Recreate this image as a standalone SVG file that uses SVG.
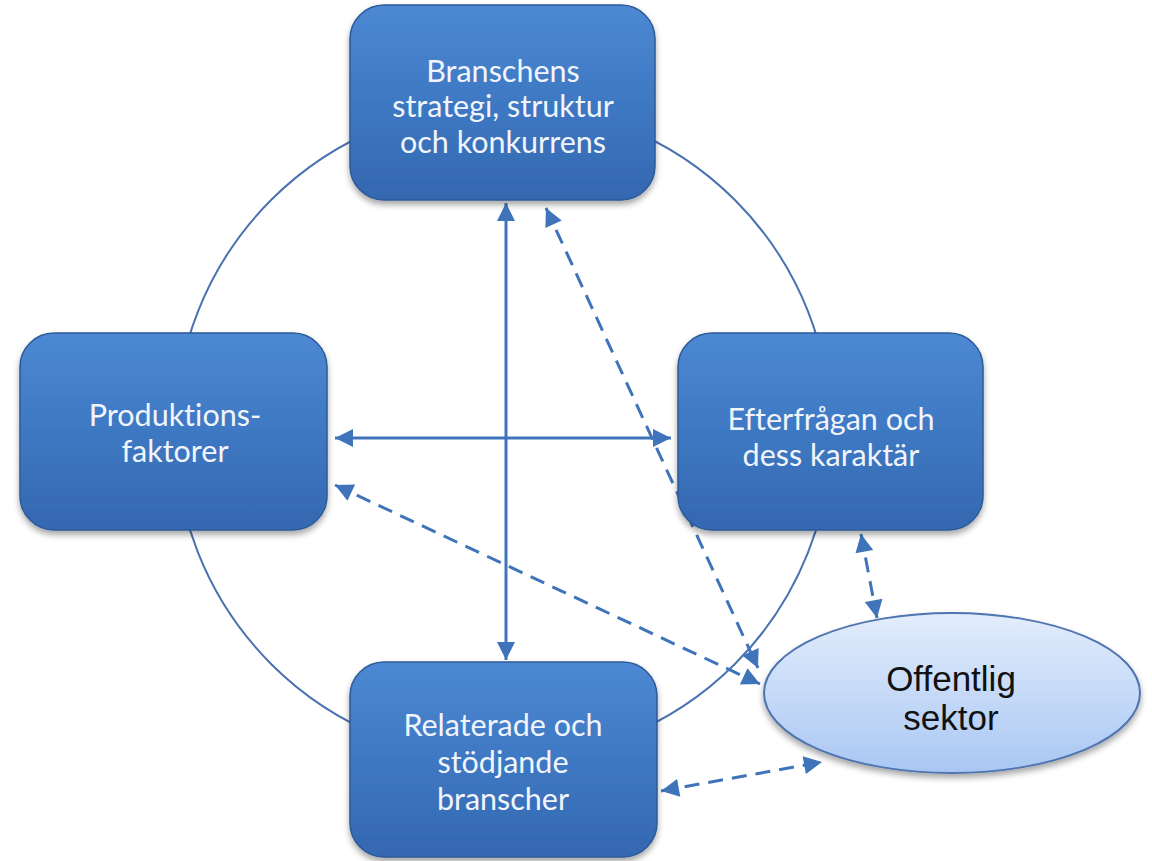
<svg xmlns="http://www.w3.org/2000/svg" width="1152" height="861" viewBox="0 0 1152 861">
  <style>
    .ring { fill: none; stroke: #4a72b0; stroke-width: 2; }
    .box { fill: url(#boxFill); stroke: #2c5a98; stroke-width: 1.5; filter: url(#shadow); }
    .label { font-family: Lato, "Open Sans", sans-serif; font-size: 30.5px; fill: #f1f5fb; text-anchor: middle; font-variant-ligatures: none; }
    .oval { fill: url(#ovalFill); stroke: #4f74b0; stroke-width: 2; filter: url(#shadow); }
    .ovalLabel { font-family: "Liberation Sans", Arial, sans-serif; font-size: 35px; fill: #111; text-anchor: middle; }
    .link { fill: none; stroke: #3f74bb; stroke-width: 3; marker-start: url(#head); marker-end: url(#head); }
    .dashed { stroke-dasharray: 15 9; }
  </style>
  <defs>
    <linearGradient id="boxFill" x1="0" y1="0" x2="0" y2="1">
      <stop offset="0" stop-color="#4d88d3"/>
      <stop offset="0.5" stop-color="#3e78c3"/>
      <stop offset="1" stop-color="#3468b0"/>
    </linearGradient>
    <linearGradient id="ovalFill" x1="0" y1="0" x2="0" y2="1">
      <stop offset="0" stop-color="#e3edfc"/>
      <stop offset="1" stop-color="#a9c7f3"/>
    </linearGradient>
    <filter id="shadow" x="-10%" y="-10%" width="120%" height="125%">
      <feDropShadow dx="0" dy="4" stdDeviation="3" flood-color="#000" flood-opacity="0.35"/>
    </filter>
    <marker id="head" viewBox="0 0 10 10" refX="10" refY="5" markerWidth="7" markerHeight="6" orient="auto-start-reverse" markerUnits="strokeWidth">
      <path d="M0,0 L10,5 L0,10 Z" fill="#3f74bb"/>
    </marker>
  </defs>

  <rect width="1152" height="861" fill="#ffffff"/>

  <!-- surrounding ring behind the four factor boxes -->
  <circle class="ring" cx="503" cy="432" r="328"/>

  <g id="connectors">
    <line class="link" x1="506" y1="203" x2="506" y2="660"/>
    <line class="link" x1="335" y1="438" x2="671" y2="438"/>
    <line class="link dashed" x1="546" y1="208" x2="758" y2="668"/>
    <line class="link dashed" x1="335" y1="485" x2="760" y2="684"/>
    <line class="link dashed" x1="861" y1="534" x2="877" y2="618"/>
    <line class="link dashed" x1="661" y1="791" x2="822" y2="762"/>
  </g>

  <g id="branschens">
    <rect class="box" x="350" y="5" width="305" height="195" rx="34"/>
    <text class="label" x="503" y="82">Branschens</text>
    <text class="label" x="503" y="117">strategi, struktur</text>
    <text class="label" x="503" y="153">och konkurrens</text>
  </g>

  <g id="produktionsfaktorer">
    <rect class="box" x="20" y="333" width="307" height="197" rx="34"/>
    <text class="label" x="175" y="426">Produktions-</text>
    <text class="label" x="175" y="462">faktorer</text>
  </g>

  <g id="efterfragan">
    <rect class="box" x="678" y="333" width="305" height="197" rx="34"/>
    <text class="label" x="831" y="430">Efterfrågan och</text>
    <text class="label" x="831" y="466">dess karaktär</text>
  </g>

  <g id="relaterade">
    <rect class="box" x="350" y="662" width="307" height="195" rx="34"/>
    <text class="label" x="503" y="736">Relaterade och</text>
    <text class="label" x="503" y="773">stödjande</text>
    <text class="label" x="503" y="810">branscher</text>
  </g>

  <g id="offentlig">
    <ellipse class="oval" cx="952" cy="693" rx="188" ry="80"/>
    <text class="ovalLabel" x="951" y="691">Offentlig</text>
    <text class="ovalLabel" x="951" y="730">sektor</text>
  </g>
</svg>
